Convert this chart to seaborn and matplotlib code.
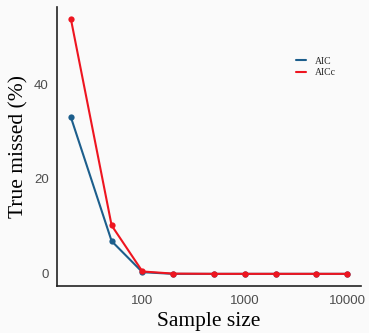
import pandas as pd
import matplotlib
matplotlib.use("Agg")
import matplotlib.pyplot as plt
import seaborn as sns

sample_size = [20, 50, 100, 200, 500, 1000, 2000, 5000, 10000]
aic = [33.0, 6.9, 0.35, 0, 0, 0, 0, 0, 0]
aicc = [53.7, 10.2, 0.5, 0.05, 0, 0, 0, 0, 0]

df = pd.DataFrame({
    "n": sample_size * 2,
    "missed": aic + aicc,
    "method": ["AIC"] * len(aic) + ["AICc"] * len(aicc),
})

sns.set_style("white")
plt.rcParams["font.family"] = ["Liberation Sans", "DejaVu Sans"]

fig = plt.figure(figsize=(3.69, 3.33), dpi=100, facecolor="#FAFAFA")
ax = fig.add_axes([0.155, 0.142, 0.823, 0.838])
ax.set_facecolor("#FAFAFA")

sns.lineplot(data=df, x="n", y="missed", hue="method",
             palette={"AIC": "#1C5E8C", "AICc": "#EE1520"},
             marker="o", markersize=4.5, markeredgewidth=0, linewidth=1.5, ax=ax)

ax.set_xscale("log")
ax.set_xlim(14.7, 13600)
ax.set_ylim(-2.5, 56.3)
ax.set_xticks([100, 1000, 10000])
ax.set_xticklabels(["100", "1000", "10000"])
ax.set_xticks([], minor=True)
ax.set_yticks([0, 20, 40])
ax.tick_params(axis="both", labelsize=9.5, labelcolor="#4D4D4D", length=0)
ax.tick_params(axis="y", pad=6)
ax.tick_params(axis="x", pad=7)

for s in ["top", "right"]:
    ax.spines[s].set_visible(False)
for s in ["left", "bottom"]:
    ax.spines[s].set_color("#222222")
    ax.spines[s].set_linewidth(1.2)

ax.set_xlabel("Sample size", family="Liberation Serif", fontsize=15.5, color="black", labelpad=3)
ax.set_ylabel("True missed (%)", family="Liberation Serif", fontsize=15.5, color="black", labelpad=4)

leg = ax.legend(title=None, frameon=False, loc="upper left", bbox_to_anchor=(0.787, 0.82),
                prop={"family": "Liberation Serif", "size": 7},
                handlelength=1.0, handletextpad=0.9, labelspacing=0.25,
                borderaxespad=0, borderpad=0)
for line in leg.get_lines():
    line.set_marker("")
    line.set_linewidth(1.5)

fig.savefig("out.png", dpi=100, facecolor="#FAFAFA")
